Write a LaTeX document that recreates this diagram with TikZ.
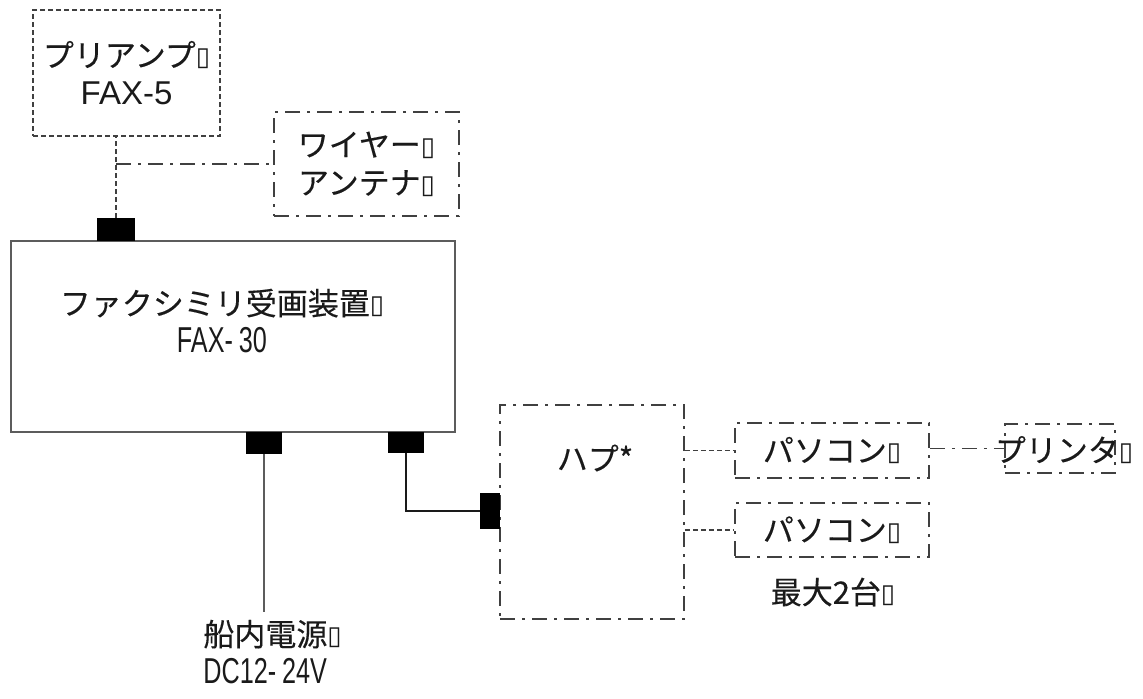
\documentclass[tikz,border=0pt]{standalone}
\usepackage{fontspec}
\setmainfont{Noto Sans CJK JP}[FakeBold=0.3]
\newfontfamily\latinfont{Liberation Sans}
\newfontfamily\narrowfont[FakeStretch=0.7]{Liberation Sans}
\newfontfamily\symfont{DejaVu Sans}
\usetikzlibrary{positioning}
\definecolor{LineGray}{HTML}{404040}
\definecolor{FrameGray}{HTML}{5C5C5C}
\definecolor{InkBlack}{HTML}{1A1A1A}
\newcommand{\tofu}{{\symfont\fontsize{13}{13}\selectfont\raisebox{0.5pt}{▯}}}

\begin{document}
\begin{tikzpicture}[x=0.5pt, y=-0.5pt,
    jp/.style={font=\fontsize{15.5}{19}\selectfont, text=InkBlack, align=center},
    box/.style={draw=LineGray, line width=0.8pt, inner sep=0pt},
    shortdash/.style={dash pattern=on 2.5pt off 1.5pt},
    dashdot/.style={dash pattern=on 7.5pt off 3.5pt on 1.5pt off 3.5pt},
    jack/.style={fill=black, draw=none, inner sep=0pt},
    wire/.style={draw=LineGray, line width=0.75pt}
  ]
    \useasboundingbox (0,0) rectangle (1143,698);

    % upper units
    \node[box, shortdash, jp, minimum width=93.5pt, minimum height=63pt] (preamp) at (126.5,73) {プリアンプ\tofu\\{\latinfont\fontsize{16.5}{19}\selectfont FAX-5}};
    \node[box, dashdot, jp, minimum width=92.5pt, minimum height=52pt] (antenna) at (366.5,164) {ワイヤー\tofu\\アンテナ\tofu};

    % main unit
    \node[box, draw=FrameGray, line width=0.9pt, minimum width=222pt, minimum height=95.5pt] (fax) at (233,336.5) {};
    \node[jp] (faxlbl) at (222,321) {ファクシミリ受画装置\tofu\\{\narrowfont\fontsize{18}{19}\selectfont FAX-\,30}};
    \node[jack, minimum width=19pt, minimum height=11.5pt] (jtop) at (116,229.5) {};
    \node[jack, minimum width=18pt, minimum height=11pt] (jpwr) at (264,443) {};
    \node[jack, minimum width=18pt, minimum height=10.5pt] (jlan) at (406,442.5) {};

    % hub and computers
    \node[box, dashdot, minimum width=92pt, minimum height=107pt] (hub) at (592,512) {};
    \node[jp] (hublbl) at (595,458) {ハプ*};
    \node[jack, minimum width=10pt, minimum height=18pt] (jhub) at (490,511) {};
    \node[box, dashdot, jp, minimum width=97pt, minimum height=27.5pt] (pc1) at (832,450.5) {パソコン\tofu};
    \node[box, dashdot, jp, minimum width=97pt, minimum height=27pt] (pc2) at (832,530) {パソコン\tofu};
    \node[box, dashdot, minimum width=55pt, minimum height=24.5pt] (printer) at (1060,448.5) {};
    \node[jp] (prnlbl) at (1064,450) {プリンタ\tofu};
    \node[jp] (maxlbl) at (833,592) {最大2台\tofu};

    % power
    \node[jp, anchor=west, align=left, inner sep=0pt] (pwrlbl) at (203,652) {船内電源\tofu\\{\narrowfont\fontsize{18}{19}\selectfont DC12-\,24V}};
    \coordinate (pwrend) at (264,612);

    % connections
    \draw[wire, shortdash] (jtop.north) -- (jtop.north |- preamp.south);
    \coordinate (tap) at (jtop.north |- antenna.west);
    \draw[wire, dashdot] (tap) -- (antenna.west);
    \draw[wire, draw=FrameGray] (jpwr.south) -- (pwrend);
    \draw[wire, draw=InkBlack] (jlan.south) |- (jhub.west);
    \draw[wire, shortdash] (hub.east |- pc1.west) -- (pc1.west);
    \draw[wire, shortdash] (hub.east |- pc2.west) -- (pc2.west);
    \draw[wire, dashdot] (pc1.east |- printer.west) -- (printer.west);
  \end{tikzpicture}
\end{document}
